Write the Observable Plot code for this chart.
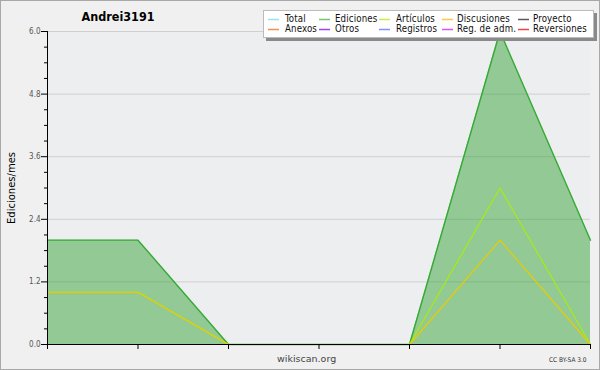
<!DOCTYPE html>
<html>
<head>
<meta charset="utf-8">
<script src="https://cdn.jsdelivr.net/npm/d3@7"></script>
<script src="https://cdn.jsdelivr.net/npm/@observablehq/plot@0.6"></script>
<style>
  html, body { margin: 0; padding: 0; background: #f0f0f0; }
  #wrap { position: relative; width: 600px; height: 370px; background: #f0f0f0; overflow: hidden;
          font-family: "DejaVu Sans Condensed", "DejaVu Sans", sans-serif; }
  #wrap svg { position: absolute; left: 0; top: 0; }
  #border { position: absolute; left: 0; top: 0; width: 598px; height: 368px; border: 1px solid #a8a8a8; pointer-events: none; }
  .abs { position: absolute; white-space: nowrap; }
  #title { left: 0; width: 236px; top: 9px; text-align: center; font-weight: bold; font-size: 12.5px; color: #000; }
  #ylab { left: 11px; top: 188px; transform: translate(-50%, -50%) rotate(-90deg); font-family: "DejaVu Sans", sans-serif; font-size: 10px; color: #000; }
  #site { left: 277px; top: 353px; font-family: "DejaVu Sans", sans-serif; font-size: 9.5px; color: #444; }
  #cc { left: 549px; top: 356px; font-size: 6.5px; color: #333; }
  #legend { left: 263px; top: 10px; width: 329px; height: 26px; background: #fff; border: 1px solid #bbb;
            box-shadow: 3px 3px 0 #8a8a8a; }
  .lt { position: absolute; font-size: 9.6px; color: #111; line-height: 10px; letter-spacing: 0.15px; }
  #legend svg { position: absolute; left: 0; top: 0; }
</style>
</head>
<body>
<div id="wrap">
  <div id="chart"></div>
  <div id="title" class="abs">Andrei3191</div>
  <div id="ylab" class="abs">Ediciones/mes</div>
  <div id="site" class="abs">wikiscan.org</div>
  <div id="cc" class="abs">CC BY-SA 3.0</div>
  <div id="legend" class="abs"></div>
  <div id="border"></div>
</div>
<script>
// month index (labels are not shown in the reference)
const months = [0, 1, 2, 3, 4, 5, 6];
const ediciones = [2, 2, 0, 0, 0, 6, 2];
const articulos = [1, 1, 0, 0, 0, 3, 0];
const discusiones = [1, 1, 0, 0, 0, 2, 0];
const yMajorTicks = [0, 1.2, 2.4, 3.6, 4.8, 6.0];
const yMinorTicks = [0.3, 0.6, 0.9, 1.5, 1.8, 2.1, 2.7, 3.0, 3.3, 3.9, 4.2, 4.5, 5.1, 5.4, 5.7];
const legendNames = ["Total", "Ediciones", "Artículos", "Discusiones", "Proyecto",
                     "Anexos", "Otros", "Registros", "Reg. de adm.", "Reversiones"];
const legendColors = ["#9be4e4", "#74c874", "#c8ee44", "#f8cc44", "#5a5a5a",
                      "#f28e50", "#9f44f0", "#8690f0", "#d856ea", "#ee4444"];

const data = months.map((m, i) => ({m, ediciones: ediciones[i], articulos: articulos[i], discusiones: discusiones[i]}));

const chart = Plot.plot({
  width: 600, height: 370,
  marginLeft: 47, marginRight: 10, marginTop: 31, marginBottom: 26,
  style: {background: "transparent", fontFamily: "'DejaVu Sans Condensed','DejaVu Sans',sans-serif"},
  x: {domain: [months[0], months[months.length - 1]], axis: null},
  y: {domain: [0, 6], axis: null},
  marks: [
    Plot.frame({fill: "#eceef0", stroke: null}),
    Plot.gridY(yMajorTicks, {stroke: "#cfcfcf", strokeOpacity: 1}),
    Plot.areaY(data, {x: "m", y: "ediciones", fill: "#38a339", fillOpacity: 0.5}),
    Plot.lineY(data, {x: "m", y: "ediciones", stroke: "#34aa34", strokeWidth: 1.4}),
    Plot.lineY(data, {x: "m", y: "articulos", stroke: "#a8ec10", strokeWidth: 1.2}),
    Plot.lineY(data, {x: "m", y: "discusiones", stroke: "#e8cc00", strokeWidth: 1.2}),
    Plot.axisY(yMinorTicks, {tickSize: 3, tickFormat: () => "", stroke: "#000", label: null}),
    Plot.axisY(yMajorTicks, {tickSize: 6, tickPadding: 1, tickFormat: d => d.toFixed(1), stroke: "#000", fill: "#555", fontSize: 8, label: null}),
    Plot.axisX(months, {tickSize: 5, tickFormat: () => "", stroke: "#000", label: null}),
    Plot.ruleX([months[0]], {stroke: "#000"}),
    Plot.ruleY([0], {stroke: "#000"})
  ]
});
document.getElementById("chart").appendChild(chart);

// legend
const lg = document.getElementById("legend");
const swX = [4, 55, 115, 178, 254];
const txX = [21, 71, 132, 193, 269];
const ns = "http://www.w3.org/2000/svg";
const lsvg = document.createElementNS(ns, "svg");
lsvg.setAttribute("width", 329);
lsvg.setAttribute("height", 26);
lg.appendChild(lsvg);
legendNames.forEach((name, i) => {
  const col = i % 5, row = Math.floor(i / 5);
  const ln = document.createElementNS(ns, "line");
  const y = 8.5 + row * 10;
  ln.setAttribute("x1", swX[col]);
  ln.setAttribute("x2", swX[col] + 11);
  ln.setAttribute("y1", y);
  ln.setAttribute("y2", y);
  ln.setAttribute("stroke", legendColors[i]);
  ln.setAttribute("stroke-width", 1.5);
  lsvg.appendChild(ln);
  const t = document.createElement("div");
  t.className = "lt";
  t.style.left = txX[col] + "px";
  t.style.top = (3 + row * 10) + "px";
  t.textContent = name;
  lg.appendChild(t);
});
</script>
</body>
</html>
